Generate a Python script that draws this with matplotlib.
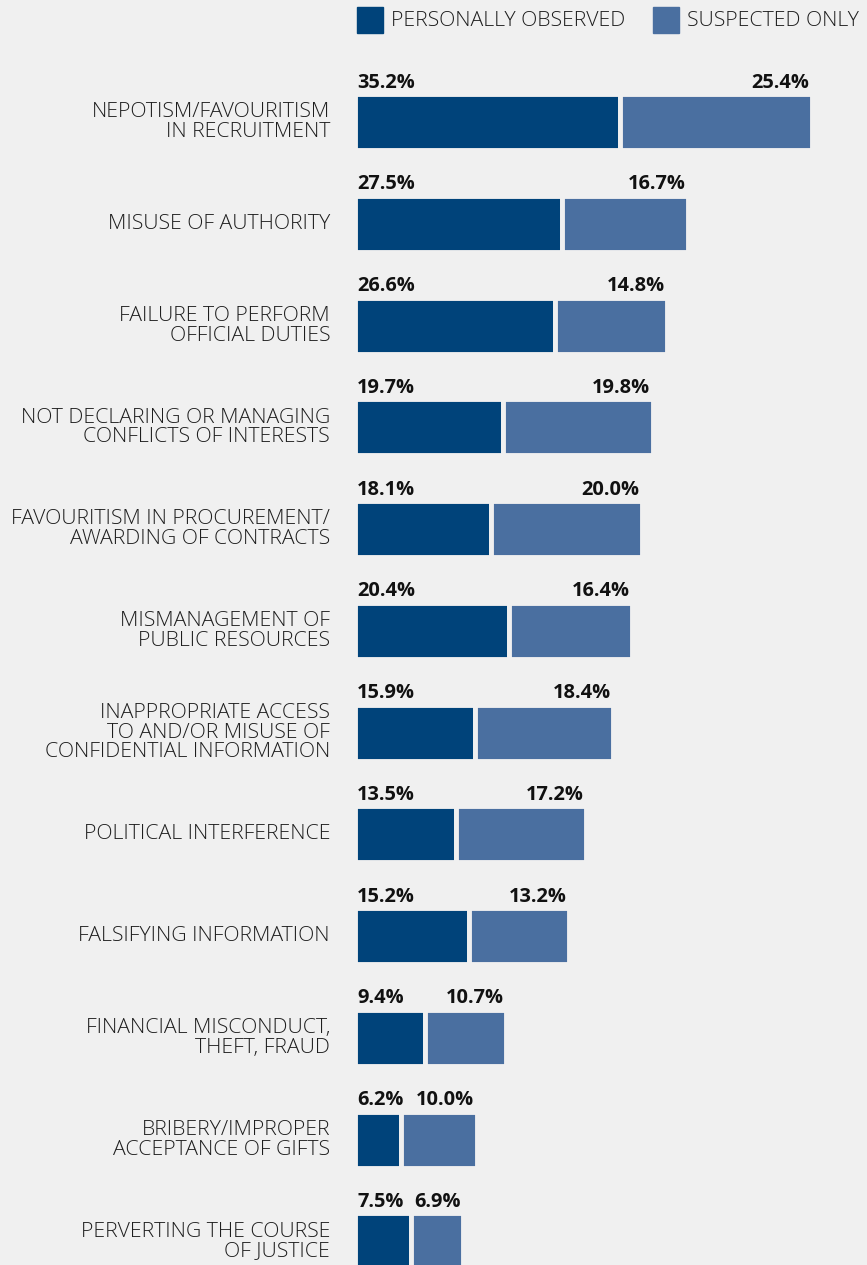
import matplotlib
matplotlib.use("Agg")
import matplotlib.pyplot as plt
from matplotlib.patches import Rectangle

# categories (top to bottom) and the two stacked series, in %
categories = [
    "NEPOTISM/FAVOURITISM\nIN RECRUITMENT",
    "MISUSE OF AUTHORITY",
    "FAILURE TO PERFORM\nOFFICIAL DUTIES",
    "NOT DECLARING OR MANAGING\nCONFLICTS OF INTERESTS",
    "FAVOURITISM IN PROCUREMENT/\nAWARDING OF CONTRACTS",
    "MISMANAGEMENT OF\nPUBLIC RESOURCES",
    "INAPPROPRIATE ACCESS\nTO AND/OR MISUSE OF\nCONFIDENTIAL INFORMATION",
    "POLITICAL INTERFERENCE",
    "FALSIFYING INFORMATION",
    "FINANCIAL MISCONDUCT,\nTHEFT, FRAUD",
    "BRIBERY/IMPROPER\nACCEPTANCE OF GIFTS",
    "PERVERTING THE COURSE\nOF JUSTICE",
]
observed = [35.2, 27.5, 26.6, 19.7, 18.1, 20.4, 15.9, 13.5, 15.2, 9.4, 6.2, 7.5]
suspected = [25.4, 16.7, 14.8, 19.8, 20.0, 16.4, 18.4, 17.2, 13.2, 10.7, 10.0, 6.9]
series_names = ["PERSONALLY OBSERVED", "SUSPECTED ONLY"]

dark = "#00437a"
light = "#4a6fa0"
bg = "#f0f0f0"
W, H = 867, 1265

plt.rcParams["font.family"] = ["Open Sans", "DejaVu Sans"]
fs = 14.4      # bold value labels
fs_lab = 15.3  # light category / legend text

fig = plt.figure(figsize=(W / 100, H / 100), dpi=100, facecolor=bg)

# bar area: starts at x~355px, ~7.55 px per percentage point
left = 354.5
scale = 7.55
ax = fig.add_axes([left / W, 0, (W - left) / W, 1])
ax.set_facecolor(bg)
ax.set_xlim(0, (W - left) / scale)
pitch = 101.75
ax.set_ylim((H - 122.2) / pitch, -122.2 / pitch)
ax.axis("off")

y = list(range(len(categories)))
ax.barh(y, observed, height=0.55, color=dark, edgecolor=bg, linewidth=3.5)
ax.barh(y, suspected, left=observed, height=0.55, color=light, edgecolor=bg, linewidth=3.5)

for i, (o, s) in enumerate(zip(observed, suspected)):
    ax.text(2.5 / scale, i - 0.39, f"{o:.1f}%", ha="left", va="center",
            fontsize=fs, fontweight="bold", color="#111111")
    ax.text(o + s - 2.5 / scale, i - 0.39, f"{s:.1f}%", ha="right", va="center",
            fontsize=fs, fontweight="bold", color="#111111")
    ax.text(-(left - 330) / scale, i, categories[i], ha="right", va="center",
            fontsize=fs_lab, fontweight=300, color="#1e1e1e", linespacing=0.98,
            clip_on=False)

# legend drawn in pixel space along the top
lg = fig.add_axes([0, 0, 1, 1])
lg.set_xlim(0, W)
lg.set_ylim(H, 0)
lg.axis("off")
for x0, name, c in [(357, series_names[0], dark), (653, series_names[1], light)]:
    lg.add_patch(Rectangle((x0, 7), 26, 26, color=c))
    lg.text(x0 + 34, 21, name, ha="left", va="center", fontsize=fs_lab,
            fontweight=300, color="#1e1e1e")

fig.savefig("out.png", dpi=100, facecolor=bg)
